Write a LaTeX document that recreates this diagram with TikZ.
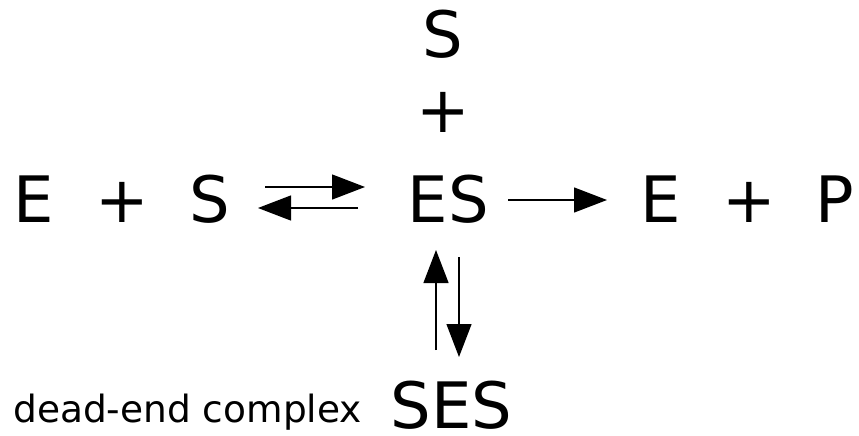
\documentclass[tikz,border=0pt]{standalone}
\usepackage{fontspec}
\setmainfont{DejaVu Sans}
\usetikzlibrary{arrows.meta}
\begin{document}
\begin{tikzpicture}
[x=1pt,y=-1pt,
 species/.style={font=\fontsize{64}{70}\selectfont,inner sep=0pt,anchor=base},
 reac/.style={-{Triangle[length=33pt,width=25pt]},line width=1.3pt}]
\useasboundingbox (0,0) rectangle (859,436);
\node (e1) [species] at (34,222) {E}; % substrate side
\node (plus1) [species] at (122,222) {+};
\node (s1) [species] at (210,222) {S};
\node (es) [species] at (448.5,222) {ES};
\node (e2) [species] at (661,222) {E};
\node (plus2) [species] at (749,222) {+};
\node (p) [species] at (834.5,222) {P};
\node (s2) [species] at (443,58) {S};
\node (plus3) [species] at (443,132) {+};
\node (ses) [species,text depth=0pt,font=\fontsize{64}{72}\selectfont] at (451.5,428) {SES};
\node (lbl) [inner sep=0pt,anchor=base west,font=\fontsize{37.5}{44}\selectfont] at (13,422) {dead-end complex};

\draw[reac] ([xshift=55pt,yshift=35pt]s1.base) -- ([xshift=-83.5pt,yshift=35pt]es.base);
\draw[reac] ([xshift=-90.5pt,yshift=14pt]es.base) -- ([xshift=48pt,yshift=14pt]s1.base);
\draw[reac] ([xshift=59.5pt,yshift=22pt]es.base) -- ([xshift=-54pt,yshift=22pt]e2.base);
\draw[reac] ([xshift=-15.5pt,yshift=78pt]ses.base) -- ([xshift=-12.5pt,yshift=-28pt]es.base);
\draw[reac] ([xshift=10.5pt,yshift=-35pt]es.base) -- ([xshift=7.5pt,yshift=71pt]ses.base);
\end{tikzpicture}
\end{document}
